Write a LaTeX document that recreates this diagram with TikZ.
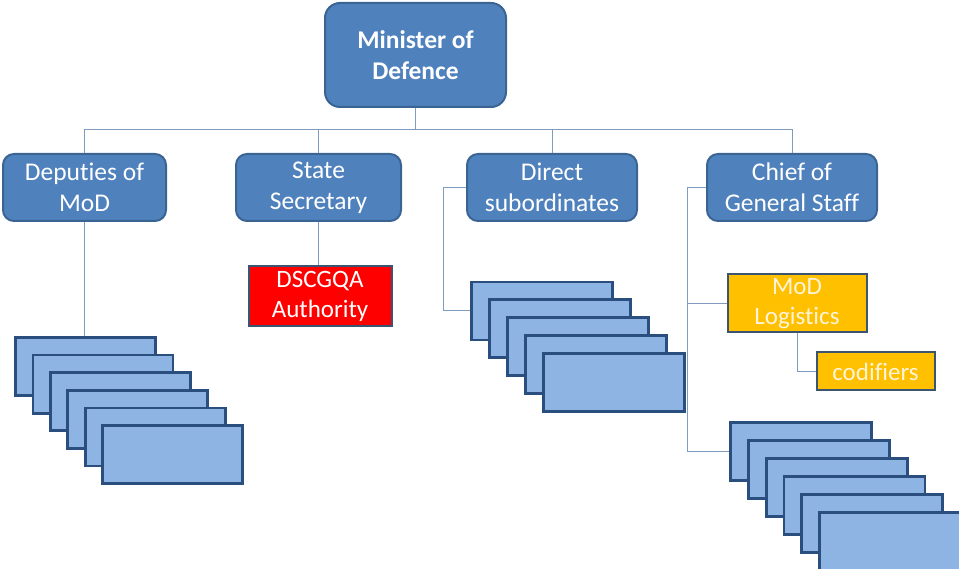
\documentclass[tikz,border=0pt]{standalone}
\usepackage{fontspec}
\setmainfont[Ligatures=NoCommon]{Carlito}
\definecolor{boxblue}{HTML}{4F81BD}
\definecolor{boxedge}{HTML}{3A6593}
\definecolor{stackfill}{HTML}{8EB4E3}
\definecolor{stackedge}{HTML}{2A4F7E}
\definecolor{linec}{HTML}{7F9BBF}
\definecolor{orangef}{HTML}{FFC000}
\definecolor{darkedge}{HTML}{3B5470}
\definecolor{paletext}{HTML}{FFF4D9}
\begin{document}
\begin{tikzpicture}[x=1pt,y=-1pt,
  lvl/.style={draw=boxedge,line width=2pt,fill=boxblue,rounded corners=11pt,text=white,
    font=\fontsize{25.5}{31}\selectfont,align=center,inner sep=0pt},
  stk/.style={draw=stackedge,line width=2.8pt,fill=stackfill,minimum width=140pt,minimum height=58pt,inner sep=0pt},
  colbox/.style={draw=darkedge,line width=2pt,text=white,font=\fontsize{25}{30}\selectfont,align=center,inner sep=0pt},
  conn/.style={draw=linec,line width=1pt}]
\useasboundingbox (0,0) rectangle (959,569);
% top node
\node[lvl,rounded corners=15pt,minimum width=181pt,minimum height=104pt,font=\bfseries\fontsize{25.5}{31}\selectfont] (min) at (415.5,55) {Minister of\\Defence};
% level 2
\node[lvl,minimum width=163pt,minimum height=67pt] (dep) at (84.5,187.5) {Deputies of\\MoD};
\node[lvl,minimum width=165pt,minimum height=67pt] (state) at (318.5,187.5) {State\\Secretary};
\node[lvl,minimum width=170pt,minimum height=67pt] (dir) at (552,187.5) {Direct\\subordinates};
\node[lvl,minimum width=170pt,minimum height=67pt] (chief) at (792,187.5) {Chief of\\General Staff};
% coloured boxes
\node[colbox,fill=red,minimum width=143pt,minimum height=60pt] (dsc) at (320,296.5) {DSCGQA\\Authority};
\node[colbox,fill=orangef,text=paletext,minimum width=139pt,minimum height=58pt] (log) at (797,303.5) {MoD\\Logistics};
\node[colbox,fill=orangef,text=paletext,minimum width=118pt,minimum height=38pt] (cod) at (875.5,371.5) {codifiers};
% deputies stack
\foreach \i in {1,...,6}{
  \node[stk] (s\i) at ({85.5+17.4*(\i-1)},{366.5+17.6*(\i-1)}) {};
}
% direct stack
\foreach \i in {1,...,5}{
  \node[stk,minimum width=141pt] (d\i) at ({542+18*(\i-1)},{311+17.8*(\i-1)}) {};
}
% chief stack
\foreach \i in {1,...,6}{
  \node[stk,minimum width=141pt] (c\i) at ({801+17.8*(\i-1)},{451.5+18*(\i-1)}) {};
}
% connectors
\coordinate (hub) at (415.5,130);
\draw[conn] (min.south) -- (hub);
\draw[conn] (dep.north) -- (dep.north |- hub) -- (chief.north |- hub) -- (chief.north);
\draw[conn] (state.north) -- (state.north |- hub);
\draw[conn] (dir.north) -- (dir.north |- hub);
\draw[conn] (dep.south) -- (dep.south |- s1.north);
\draw[conn] (state.south) -- (state.south |- dsc.north);
\coordinate (dx) at (443,187.5);
\draw[conn] (dir.west) -- (dx) |- (d1.west);
\coordinate (cx) at (687,187.5);
\draw[conn] (chief.west) -- (cx) |- (c1.west);
\draw[conn] (cx |- log.west) -- (log.west);
\draw[conn] (log.south) |- (cod.west);
\end{tikzpicture}
\end{document}
